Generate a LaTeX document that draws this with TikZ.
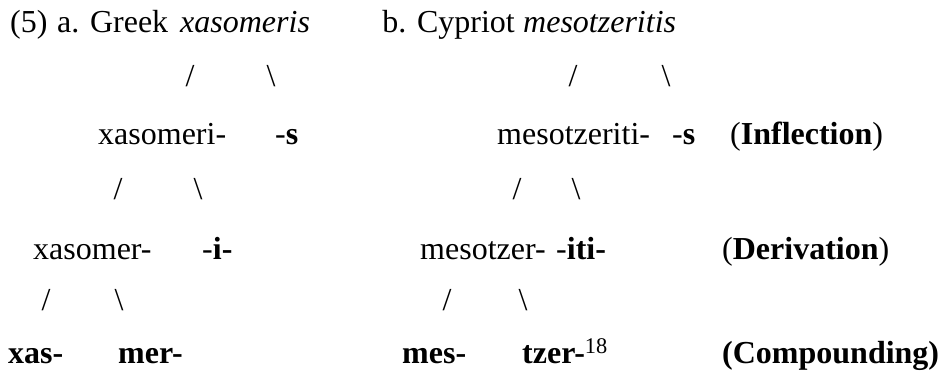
\documentclass[tikz,border=0pt]{standalone}
\usepackage{fontspec}
\setmainfont{Liberation Serif}
\usepackage{tikz}

\begin{document}
\begin{tikzpicture}[x=1pt,y=-1pt]
\tikzstyle{word}=[inner sep=0pt,anchor=base west,font=\fontsize{32}{38}\selectfont]
\tikzstyle{branch}=[inner sep=0pt,anchor=base,font=\fontsize{32}{38}\selectfont]
\useasboundingbox (0,0) rectangle (939,371);
\node [word] (num) at (10,33) {(5)};
\node [word] (titleA) at (57,33) {a. Greek};
\node [word] (formA) at (180,33) {\textit{xasomeris}};
\node [word, anchor=base east] (titleB) at (515,33) {b. Cypriot};
\node [word] (formB) at (523,33) {\textit{mesotzeritis}};
\node [branch] (a1l) at (190,87) {/};
\node [branch] (a1r) at (271,87) {\textbackslash};
\node [branch] (b1l) at (573,87) {/};
\node [branch] (b1r) at (666,87) {\textbackslash};
\node [word] (stemA) at (98,145) {xasomeri-};
\node [word] (infA) at (275,145) {-\textbf{s}};
\node [word] (stemB) at (497,145) {mesotzeriti-};
\node [word] (infB) at (672,145) {-\textbf{s}};
\node [word] (infl) at (730,145) {(\textbf{Inflection})};
\node [branch] (a2l) at (118,200) {/};
\node [branch] (a2r) at (198,200) {\textbackslash};
\node [branch] (b2l) at (517,200) {/};
\node [branch] (b2r) at (576,200) {\textbackslash};
\node [word] (baseA) at (33,260) {xasomer-};
\node [word] (derA) at (202,260) {-\textbf{i-}};
\node [word] (baseB) at (420,260) {mesotzer-};
\node [word] (derB) at (556,260) {-\textbf{iti-}};
\node [word] (deriv) at (722,260) {(\textbf{Derivation})};
\node [branch] (a3l) at (46,310) {/};
\node [branch] (a3r) at (119,310) {\textbackslash};
\node [branch] (b3l) at (447,310) {/};
\node [branch] (b3r) at (523,310) {\textbackslash};
\node [word] (rootA1) at (8,363) {\textbf{xas-}};
\node [word] (rootA2) at (118,363) {\textbf{mer-}};
\node [word] (rootB1) at (402,363) {\textbf{mes-}};
\node [word] (rootB2) at (522,363) {\textbf{tzer-}\textsuperscript{18}};
\node [word] (comp) at (722,363) {\textbf{(Compounding)}};
\end{tikzpicture}
\end{document}
